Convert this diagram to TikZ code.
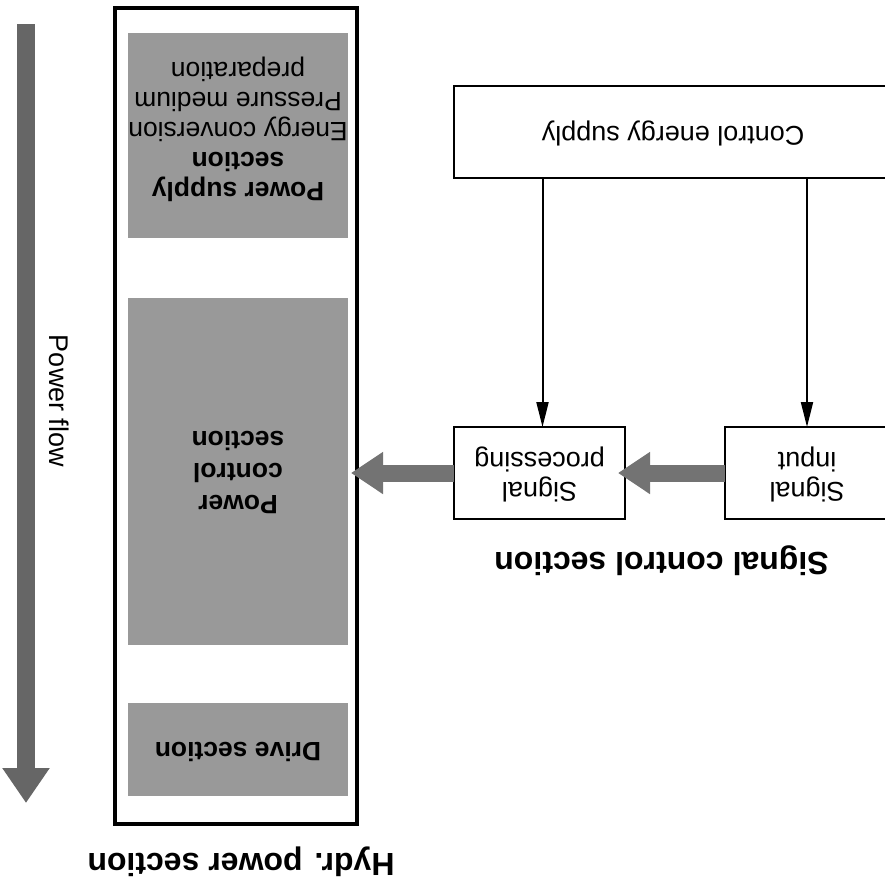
\documentclass[tikz,border=0pt]{standalone}
\usepackage{fontspec}
\setmainfont{Liberation Sans}
\usepackage{graphicx}
\usetikzlibrary{arrows.meta}
\newcommand\upsd[1]{\rotatebox[origin=c]{180}{\begin{tabular}{@{}c@{}}#1\end{tabular}}}
\begin{document}
\begin{tikzpicture}[x=1pt,y=-1pt,
  every node/.style={inner sep=0pt, outer sep=0pt},
  frame/.style={draw, line width=3.6pt, fill=white},
  sbox/.style={draw, line width=2.6pt, fill=white, minimum height=92pt,
    font=\fontsize{27}{30}\selectfont},
  gbox/.style={fill=black!40, minimum width=220pt},
  gtxt/.style={font=\fontsize{26.5}{30}\selectfont},
  ttl/.style={font=\fontsize{32}{36}\selectfont\bfseries},
  fat/.style={draw=black!55, line width=17pt, -{Triangle[width=40pt,length=32pt,fill=black!55]}},
  thinarrow/.style={draw, line width=2pt, -{Triangle[width=12pt,length=25pt]}}]
\clip (0,0) rectangle (885,881);
\fill[white] (0,0) rectangle (885,881);
% hydraulic power section
\node[frame, minimum width=242pt, minimum height=816pt] (hyd) at (236,416) {};
\node[gbox, minimum height=205pt] (gb1) at (238,135.5) {};
\node[gtxt] (gb1t) at (238,128) {\upsd{\bfseries Power supply\\\bfseries section\\Energy conversion\\Pressure medium\\preparation}};
\node[gbox, minimum height=347pt] (gb2) at (238,471.5) {};
\node[gtxt, font=\fontsize{26.5}{32}\selectfont] (gb2t) at (238,470) {\upsd{\bfseries Power\\\bfseries control\\\bfseries section}};
\node[gbox, minimum height=93pt] (gb3) at (238,749.5) {};
\node[gtxt] (gb3t) at (238,748) {\upsd{\bfseries Drive section}};
\node[ttl] (hydt) at (241,861) {\upsd{Hydr. power section}};
% power flow arrow
\coordinate (pfa) at (26,24);
\coordinate (pfb) at (26,803);
\draw[draw=black!60, line width=18pt, -{Triangle[width=45pt,length=35pt,fill=black!60]}] (pfa) -- (pfb);
\node[font=\fontsize{27}{30}\selectfont, rotate=-90] (pft) at (59,401) {Power flow};
% signal control section
\node[sbox, minimum width=438pt] (ceb) at (673,132) {\upsd{Control energy supply}};
\node[sbox, minimum width=171pt] (sp) at (539.5,473) {\upsd{Signal\\processing}};
\node[sbox, minimum width=164pt] (si) at (807,473) {\upsd{Signal\\input}};
\node[ttl] (sct) at (661.5,560) {\upsd{Signal control section}};
\coordinate (spin) at ([xshift=3pt]sp.north);
\draw[thinarrow] (spin |- ceb.south) -- (spin);
\draw[thinarrow] (si.north |- ceb.south) -- (si.north);
\draw[fat, shorten >=-7pt] (si.west) -- (si.west -| sp.east);
\draw[fat, shorten >=-6pt] (sp.west) -- (sp.west -| hyd.east);
\end{tikzpicture}
\end{document}
